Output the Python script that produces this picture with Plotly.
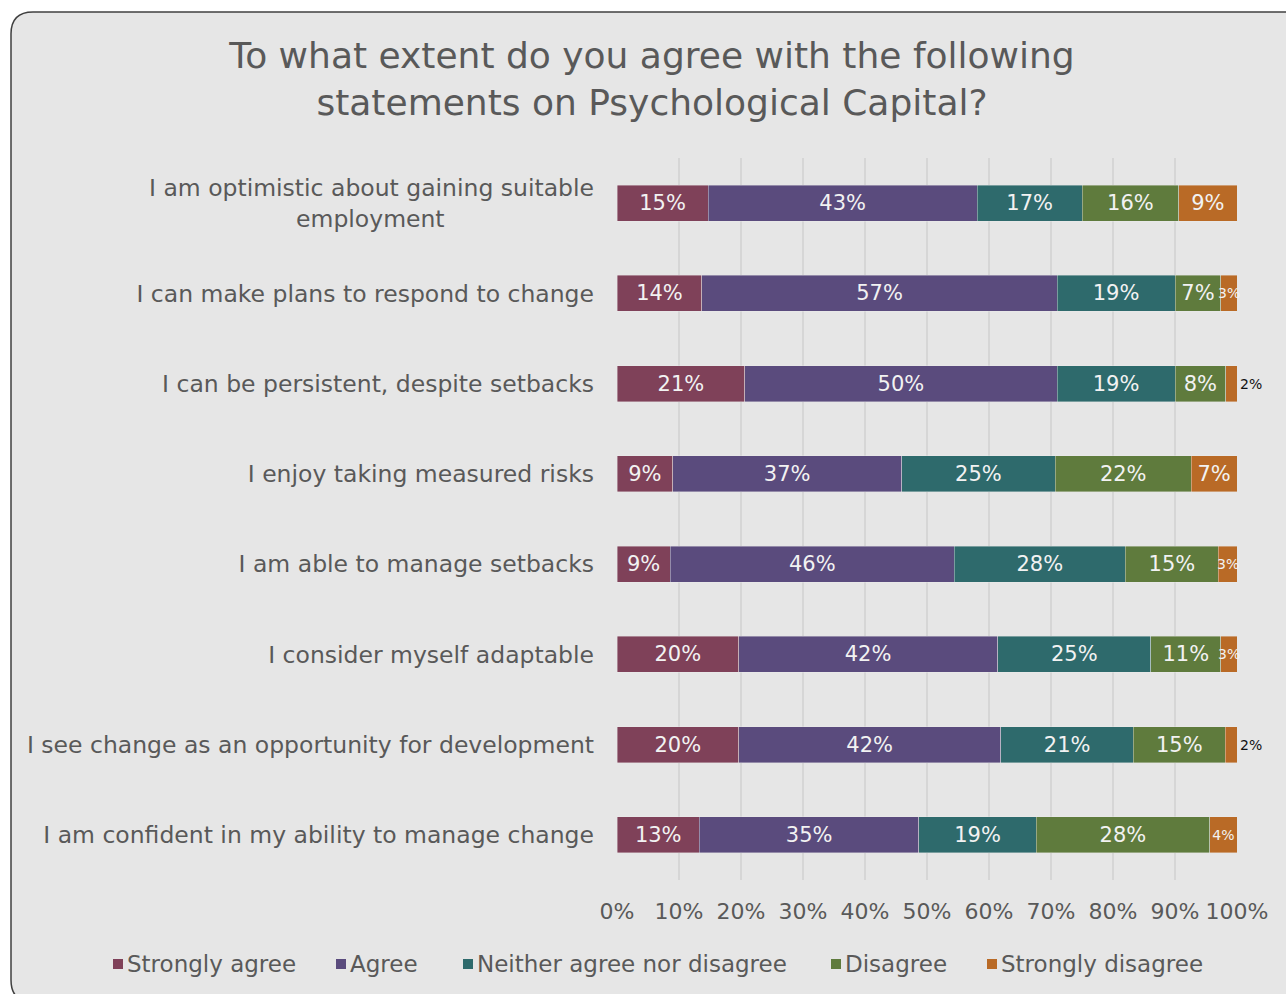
import plotly.graph_objects as go

categories = [
    "I am optimistic about gaining suitable employment",
    "I can make plans to respond to change",
    "I can be persistent, despite setbacks",
    "I enjoy taking measured risks",
    "I am able to manage setbacks",
    "I consider myself adaptable",
    "I see change as an opportunity for development",
    "I am confident in my ability to manage change",
]
series_names = ["Strongly agree", "Agree", "Neither agree nor disagree", "Disagree", "Strongly disagree"]
strongly_agree = [14.7, 13.7, 20.6, 9.0, 8.6, 19.6, 19.6, 13.3]
agree = [43.4, 57.3, 50.4, 36.9, 45.8, 41.8, 42.3, 35.4]
neither = [16.9, 19.0, 19.0, 24.8, 27.6, 24.7, 21.4, 18.9]
disagree = [15.6, 7.4, 8.2, 21.9, 15.0, 11.3, 14.8, 28.0]
strongly_disagree = [9.4, 2.6, 1.8, 7.4, 3.0, 2.6, 1.9, 4.4]
x_ticks = [0, 10, 20, 30, 40, 50, 60, 70, 80, 90, 100]
x_ticklabels = ["0%", "10%", "20%", "30%", "40%", "50%", "60%", "70%", "80%", "90%", "100%"]

colors = ["#7f4159", "#5a4b7d", "#2e6a6c", "#5f7b3d", "#b96a26"]
FONT = "DejaVu Sans"
GREY = "#595959"

W, H = 1286, 994
L, R, T, B = 617, 1237, 158, 880

# legend entry left edges (pixels)
legend_x = [113, 336, 463, 831, 987]
legend_y = 964


def px(x):
    return (x - L) / (R - L)


def py(y):
    return (B - y) / (B - T)


all_series = [strongly_agree, agree, neither, disagree, strongly_disagree]
fig = go.Figure()
annotations = []
base = [0.0] * len(categories)
for name, vals, col in zip(series_names, all_series, colors):
    pos, tcol, tsize, txt = [], [], [], []
    for i, v in enumerate(vals):
        label = f"{v:.0f}%"
        if v < 2.5:
            pos.append("outside"); tcol.append("#111111"); tsize.append(14); txt.append(label)
        elif v < 3.5:
            pos.append("none"); tcol.append("#f2f2f2"); tsize.append(14); txt.append("")
            annotations.append(dict(text=label, x=base[i] + v / 2, y=categories[i],
                                    xref="x", yref="y", showarrow=False,
                                    font=dict(family=FONT, size=14, color="#f2f2f2")))
        else:
            pos.append("inside"); tcol.append("#f2f2f2")
            tsize.append(14 if v < 6 else 21); txt.append(label)
        base[i] += v
    fig.add_trace(go.Bar(
        y=categories, x=vals, name=name, orientation="h",
        marker=dict(color=col, line=dict(color="rgba(235,235,235,0.5)", width=0.8)),
        text=txt, texttemplate="%{text}", textposition=pos, textangle=0,
        insidetextanchor="middle", constraintext="none",
        textfont=dict(family=FONT, color=tcol, size=tsize),
        cliponaxis=False, hoverinfo="skip", showlegend=False,
    ))

ticktext = [c for c in categories]
ticktext[0] = "I am optimistic about gaining suitable<br>employment" + "\u00a0" * 20

r = 22
x0, y0, x1, y1 = 11, 12, 1300, 1002
path = (f"M {px(x0)},{py(y0 + r)} Q {px(x0)},{py(y0)} {px(x0 + r)},{py(y0)} "
        f"L {px(x1)},{py(y0)} L {px(x1)},{py(y1)} L {px(x0 + r)},{py(y1)} "
        f"Q {px(x0)},{py(y1)} {px(x0)},{py(y1 - r)} Z")
shapes = [dict(type="path", path=path, xref="paper", yref="paper",
               fillcolor="#e6e6e6", line=dict(color="#404040", width=1.5),
               layer="below")]
for name, col, lx in zip(series_names, colors, legend_x):
    shapes.append(dict(type="rect", xref="paper", yref="paper",
                       x0=px(lx), x1=px(lx + 10), y0=py(legend_y - 5), y1=py(legend_y + 5),
                       fillcolor=col, line=dict(width=0)))
    annotations.append(dict(text=name, xref="paper", yref="paper",
                            x=px(lx + 12), y=py(legend_y), xanchor="left", yanchor="middle",
                            showarrow=False, font=dict(family=FONT, size=23, color=GREY)))

fig.update_layout(
    width=W, height=H,
    margin=dict(l=L, r=W - R, t=T, b=H - B, autoexpand=False),
    barmode="stack", bargap=0.6, showlegend=False,
    paper_bgcolor="white", plot_bgcolor="rgba(0,0,0,0)",
    font=dict(family=FONT, color=GREY, size=22),
    title=dict(
        text="To what extent do you agree with the following<br>statements on Psychological Capital?",
        xref="container", x=652 / W, xanchor="center",
        yref="container", y=1 - 68 / H, yanchor="middle",
        font=dict(family=FONT, size=36, color=GREY),
    ),
    xaxis=dict(range=[0, 100], tickmode="array", tickvals=x_ticks, ticktext=x_ticklabels,
               showgrid=True, gridcolor="#d6d6d6", gridwidth=2,
               zeroline=False, showline=False, ticks="",
               ticklabelstandoff=16, tickfont=dict(size=22, color=GREY)),
    yaxis=dict(categoryorder="array", categoryarray=categories,
               autorange="reversed", tickvals=categories, ticktext=ticktext,
               showgrid=False, zeroline=False, showline=False, ticks="",
               ticklabelstandoff=22, tickfont=dict(size=23.5, color=GREY)),
    shapes=shapes,
    annotations=annotations,
)

fig.write_html("out.html")
